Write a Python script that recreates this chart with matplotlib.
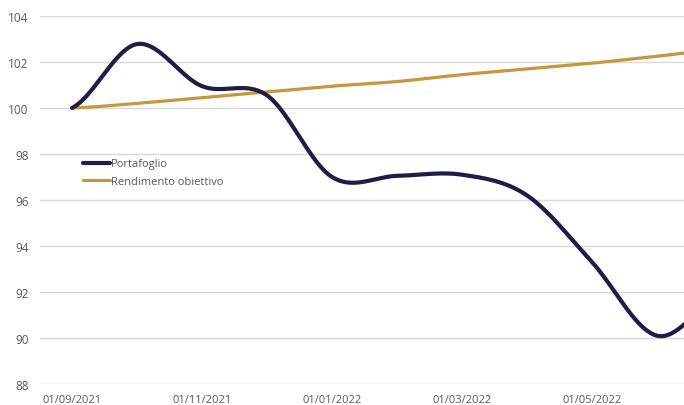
import numpy as np
import matplotlib
matplotlib.use('Agg')
import matplotlib.pyplot as plt

# monthly categories (category axis, label every 2 months)
dates = ['01/09/2021', '01/10/2021', '01/11/2021', '01/12/2021', '01/01/2022',
         '01/02/2022', '01/03/2022', '01/04/2022', '01/05/2022', '01/06/2022',
         '01/07/2022']
portafoglio = [100.0, 102.78, 100.95, 100.55, 97.0, 97.05, 97.1, 96.2, 93.3, 90.1, 91.9]
obiettivo = [100.0, 100.2, 100.45, 100.7, 100.95, 101.15, 101.45, 101.7, 101.95, 102.25, 102.55]
y_ticks = [88, 90, 92, 94, 96, 98, 100, 102, 104]


def smooth(vals, n=40):
    # Excel-like smoothed line (Catmull-Rom through the points)
    p = np.asarray(vals, dtype=float)
    ext = np.concatenate([[p[0]], p, [p[-1]]])
    xs, ys = [], []
    for i in range(len(p) - 1):
        p0, p1, p2, p3 = ext[i], ext[i + 1], ext[i + 2], ext[i + 3]
        m1 = (p2 - p0) / 2
        m2 = (p3 - p1) / 2
        t = np.linspace(0, 1, n, endpoint=(i == len(p) - 2))
        h00 = 2 * t**3 - 3 * t**2 + 1
        h10 = t**3 - 2 * t**2 + t
        h01 = -2 * t**3 + 3 * t**2
        h11 = t**3 - t**2
        xs.append(i + t)
        ys.append(h00 * p1 + h10 * m1 + h01 * p2 + h11 * m2)
    return np.concatenate(xs), np.concatenate(ys)


plt.rcParams['font.family'] = ['Open Sans', 'DejaVu Sans']

W, H = 684, 406
fig = plt.figure(figsize=(W / 100, H / 100), dpi=100)
n = len(dates)
left, right = 39.5, 39.5 + 65 * n
top, bottom = 17, 385
ax = fig.add_axes([left / W, (H - bottom) / H, (right - left) / W, (bottom - top) / H])

x = np.arange(n)
xs, ys = smooth(portafoglio)
ax.plot(xs, ys, color='#1F1D45', lw=3.0, solid_capstyle='round', label='Portafoglio', zorder=3)
xs2, ys2 = smooth(obiettivo)
ax.plot(xs2, ys2, color='#C8963E', lw=2.3, solid_capstyle='round', label='Rendimento obiettivo', zorder=2)

ax.set_xlim(-0.5, n - 0.5)
ax.set_ylim(88, 104)
ax.set_yticks(y_ticks)
# only the labels that fall inside the visible (cropped) area
ax.set_xticks(x[:n - 1:2])
ax.set_xticklabels(dates[:n - 1:2])
ax.grid(axis='y', color='#D9D9D9', lw=1.0)
ax.set_axisbelow(True)
for s in ax.spines.values():
    s.set_visible(False)
ax.tick_params(length=0, colors='#595959', labelsize=8)
ax.tick_params(axis='y', labelsize=8.5, pad=8)
ax.tick_params(axis='x', pad=7.5)

leg = ax.legend(loc='upper left', bbox_to_anchor=(83 / W, (H - 159.5) / H),
                bbox_transform=fig.transFigure, frameon=False, fontsize=8,
                handlelength=2.4, handletextpad=0.1, labelspacing=0.55,
                borderpad=0, borderaxespad=0)
for t in leg.get_texts():
    t.set_color('#595959')

fig.savefig('out.png', dpi=100)
